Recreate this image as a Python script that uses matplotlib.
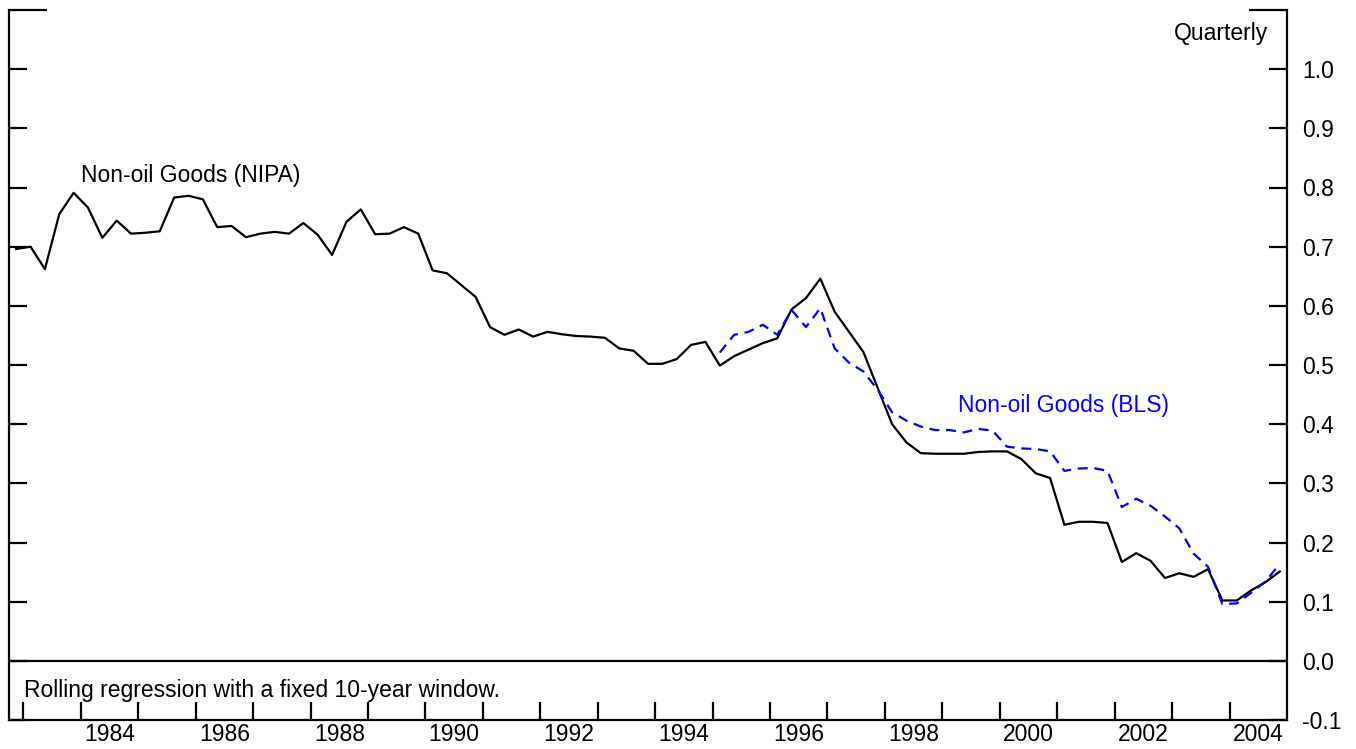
import numpy as np
import pandas as pd
import matplotlib
matplotlib.use("Agg")
import matplotlib.pyplot as plt
from matplotlib.ticker import FixedLocator, NullFormatter, FixedFormatter

plt.rcParams["font.family"] = ["Liberation Sans", "DejaVu Sans"]
plt.rcParams.update({'font.size': 16.5})

# quarterly observations, 1982Q4 - 2004Q4
quarters = pd.period_range("1982Q4", "2004Q4", freq="Q")

nipa = [0.696, 0.700, 0.662, 0.755, 0.791, 0.766, 0.715, 0.744, 0.722, 0.7235,
        0.726, 0.783, 0.786, 0.780, 0.733, 0.735, 0.716, 0.722, 0.725, 0.722,
        0.740, 0.720, 0.686, 0.742, 0.763, 0.721, 0.722, 0.733, 0.722, 0.660,
        0.655, 0.635, 0.615, 0.564, 0.551, 0.560, 0.548, 0.556, 0.552, 0.549,
        0.548, 0.546, 0.528, 0.524, 0.502, 0.502, 0.510, 0.534, 0.539, 0.499,
        0.515, 0.526, 0.537, 0.545, 0.594, 0.613, 0.646, 0.590, 0.556, 0.522,
        0.461, 0.400, 0.369, 0.351, 0.350, 0.350, 0.350, 0.353, 0.354, 0.354,
        0.341, 0.317, 0.309, 0.230, 0.235, 0.235, 0.233, 0.167, 0.182, 0.169,
        0.140, 0.148, 0.142, 0.155, 0.102, 0.102, 0.119, 0.133, 0.151]

# BLS series starts 1995Q1
bls_start = "1995Q1"
bls = [0.521, 0.551, 0.556, 0.568, 0.551, 0.593, 0.564, 0.596, 0.528, 0.504,
       0.489, 0.458, 0.420, 0.406, 0.396, 0.390, 0.390, 0.386, 0.392, 0.389,
       0.362, 0.359, 0.358, 0.354, 0.321, 0.325, 0.326, 0.321, 0.260, 0.274,
       0.262, 0.244, 0.224, 0.181, 0.159, 0.096, 0.097, 0.115, 0.134, 0.164]

year_labels = [str(y) for y in range(1984, 2005, 2)]
y_ticks = [-0.1, 0.0, 0.1, 0.2, 0.3, 0.4, 0.5, 0.6, 0.7, 0.8, 0.9, 1.0]


def decimal_year(periods):
    # plot each quarter at its midpoint
    return np.array([p.year + (p.quarter - 0.5) / 4.0 for p in periods])


x_nipa = decimal_year(quarters)
x_bls = decimal_year(pd.period_range(bls_start, "2004Q4", freq="Q"))

fig = plt.figure(figsize=(13.56, 7.49), dpi=100)
ax = fig.add_axes([9/1356, 29/749, 1278/1356, 710/749])

lw = 1.6
ax.axhline(0.0, color='black', lw=lw)
ax.plot(x_nipa, nipa, c='black', lw=lw, ls='solid')
ax.plot(x_bls, bls, c='blue', lw=lw, ls=(0, (4.5, 3.0)))

ax.set_xlim([1982.75, 2005.0])
ax.set_ylim([-0.1, 1.1])

##################################################################
# axes frame and ticks
for s in ['left', 'right', 'bottom']:
    ax.spines[s].set_linewidth(lw)
ax.spines['top'].set_visible(False)

ax.yaxis.set_major_locator(FixedLocator(y_ticks))
ax.yaxis.set_major_formatter(FixedFormatter(["%.1f" % v for v in y_ticks]))
ax.yaxis.set_minor_locator(FixedLocator([1.1]))
ax.yaxis.set_minor_formatter(NullFormatter())
ax.tick_params(axis='y', which='major', direction='in', length=13, width=lw,
               left=True, right=True, labelleft=False, labelright=True, pad=11)
ax.tick_params(axis='y', which='minor', direction='in', length=27.5, width=lw,
               left=True, right=True, labelleft=False, labelright=False)

ax.xaxis.set_major_locator(FixedLocator(np.arange(1983, 2005)))
ax.xaxis.set_major_formatter(NullFormatter())
ax.xaxis.set_minor_locator(FixedLocator([int(y) + 0.5 for y in year_labels]))
ax.xaxis.set_minor_formatter(FixedFormatter(year_labels))
ax.tick_params(axis='x', which='major', direction='in', length=13, width=lw, top=False)
ax.tick_params(axis='x', which='minor', length=0, pad=2, top=False)

##################################################################
# annotations
ax.text(1984.0, 0.82, "Non-oil Goods (NIPA)", ha='left', va='center', color='black')
ax.text(1999.27, 0.432, "Non-oil Goods (BLS)", ha='left', va='center', color='blue')
ax.text(0.985, 0.9676, "Quarterly", transform=ax.transAxes, ha='right', va='center')
ax.text(0.0117, 0.042, "Rolling regression with a fixed 10-year window.",
        transform=ax.transAxes, ha='left', va='center')

plt.savefig("out.png", dpi=100)
plt.close()
